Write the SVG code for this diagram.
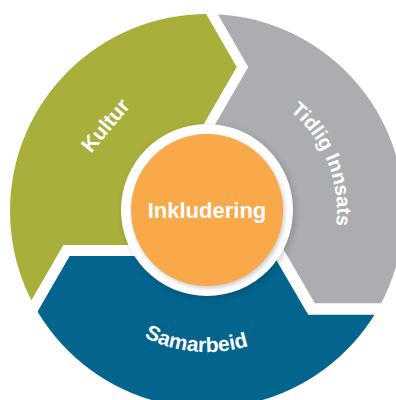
<svg xmlns="http://www.w3.org/2000/svg" width="396" height="400" viewBox="0 0 396 400">
  <style>
    .lbl { font-family: "Liberation Sans", Arial, sans-serif; font-weight: bold; fill: #ffffff; }
    .gap { fill: none; stroke: #ffffff; stroke-linejoin: miter; stroke-miterlimit: 10; }
  </style>
  <defs>
    <clipPath id="ring">
      <circle cx="207" cy="211" r="197"/>
    </clipPath>
    <filter id="blur3" x="-30%" y="-30%" width="160%" height="160%">
      <feGaussianBlur stdDeviation="3"/>
    </filter>
    <filter id="blur2" x="-30%" y="-30%" width="160%" height="160%">
      <feGaussianBlur stdDeviation="2"/>
    </filter>
    <path id="arcSam" d="M79.5,271.3 A141,141 0 0 0 322.9,291.3"/>
    <path id="arcTid" d="M225.1,82.3 A130,130 0 0 1 309.4,291.0"/>
  </defs>
  <rect width="396" height="400" fill="#ffffff"/>

  <g clip-path="url(#ring)">
    <g id="kultur">
      <path d="M207,210 L150,250.5 L66.5,250.5 L17.7,335 L-30,335 L-30,-30 L195.2,-30 L195.2,-15 L242.5,67 L197.5,145 Z" fill="#A8AF3B"/>
    </g>
    <g id="tidlig-innsats">
      <path d="M207,210 L197.5,145 L242.5,67 L195.2,-15 L195.2,-30 L440,-30 L440,309 L311.5,309 L271.3,240 Z" fill="#ABADB0"/>
    </g>
    <g id="samarbeid">
      <path d="M207,210 L271.3,240 L311.5,309 L440,309 L440,440 L-30,440 L-30,335 L17.7,335 L66.5,250.5 L150,250.5 Z" fill="#03648E"/>
    </g>
  </g>

  <g id="separators">
    <path class="gap" stroke-width="10" d="M195.2,-15 L242.5,67 L197.5,145"/>
    <path class="gap" stroke-width="11.5" d="M271.3,240 L311.5,309 L440,309"/>
    <path class="gap" stroke-width="11" d="M150,250.5 L66.5,250.5 L17.7,335"/>
  </g>

  <g id="inkludering">
    <circle cx="209" cy="212" r="86" fill="#000000" opacity="0.18" filter="url(#blur3)"/>
    <circle cx="207" cy="210" r="86" fill="#ffffff"/>
    <circle cx="208.5" cy="212" r="76" fill="#000000" opacity="0.22" filter="url(#blur2)"/>
    <circle cx="207" cy="210" r="76" fill="#F9A84A"/>
    <text class="lbl" x="207" y="218" font-size="22" text-anchor="middle">Inkludering</text>
  </g>

  <g id="labels">
    <text class="lbl" x="111" y="130" font-size="21" text-anchor="middle" transform="rotate(-50 111 130)">Kultur</text>
    <text class="lbl" font-size="20"><textPath href="#arcTid" startOffset="50%" text-anchor="middle">Tidlig Innsats</textPath></text>
    <text class="lbl" font-size="21"><textPath href="#arcSam" startOffset="50%" text-anchor="middle">Samarbeid</textPath></text>
  </g>
</svg>
